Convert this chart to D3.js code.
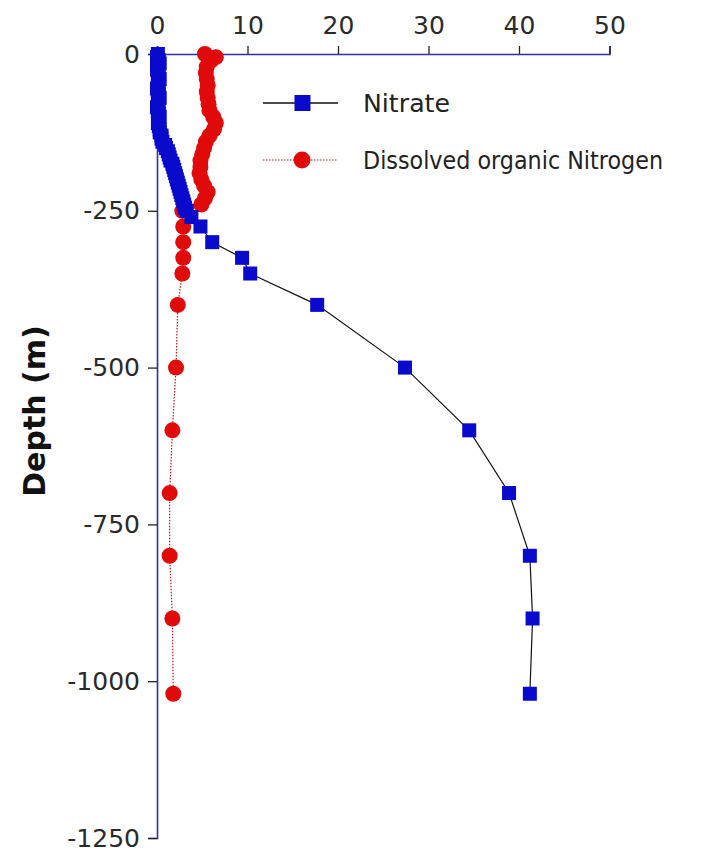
<!DOCTYPE html>
<html>
<head>
<meta charset="utf-8">
<script src="https://cdn.jsdelivr.net/npm/d3@7/dist/d3.min.js"></script>
<style>
  html, body { margin: 0; padding: 0; background: #fff; }
  svg { display: block; }
  text { font-family: "DejaVu Sans", Verdana, sans-serif; }
</style>
</head>
<body>
<svg id="chart" width="720" height="855"></svg>
<script>
// Nitrate profile (µmol/L) against depth (m)
const nitrateDepth = [0, -5, -10, -15, -20, -25, -30, -35, -40, -45, -50, -55, -60, -65, -70, -75, -80, -85, -90,
  -95, -100, -105, -110, -115, -120, -125, -130, -135, -140, -145, -150, -155, -160, -165, -170, -175, -180,
  -185, -190, -195, -200, -205, -210, -215, -220, -225, -230, -235, -240, -245, -250, -260, -275, -300,
  -325, -350, -400, -500, -600, -700, -800, -900, -1020];
const nitrateValue = [0.1, 0.0, 0.2, 0.3, 0.1, 0.0, 0.2, 0.1, 0.3, 0.1, 0.2, 0.0, 0.1, 0.2, 0.3, 0.1, 0.2, 0.0, 0.1,
  0.2, 0.3, 0.2, 0.1, 0.2, 0.3, 0.3, 0.5, 0.5, 0.6, 0.9, 1.0, 1.2, 1.3, 1.4, 1.5, 1.7, 1.8,
  1.9, 2.0, 2.1, 2.2, 2.3, 2.4, 2.5, 2.6, 2.7, 2.8, 2.9, 3.0, 3.1, 3.3, 3.8, 4.8, 6.1,
  9.4, 10.3, 17.7, 27.4, 34.5, 38.9, 41.2, 41.5, 41.2];

// Dissolved organic nitrogen profile
const donDepth = [0, -5, -10, -20, -30, -40, -50, -60, -70, -80, -90, -100, -110, -120, -130, -140, -150,
  -160, -170, -180, -190, -200, -210, -220, -230, -240, -250, -275, -300, -325, -350, -400, -500, -600,
  -700, -800, -900, -1020];
const donValue = [5.3, 6.5, 6.0, 5.5, 5.4, 5.5, 5.6, 5.5, 5.6, 5.7, 5.8, 6.2, 6.5, 6.3, 5.8, 5.4, 5.2,
  5.0, 4.8, 4.8, 4.7, 4.9, 5.2, 5.6, 5.3, 4.9, 2.8, 2.9, 2.9, 2.9, 2.8, 2.3, 2.1, 1.7,
  1.4, 1.4, 1.7, 1.8];

const xTicks = [0, 10, 20, 30, 40, 50];
const yTicks = [0, -250, -500, -750, -1000, -1250];
const seriesNames = ["Nitrate", "Dissolved organic Nitrogen"];

const nitrate = nitrateDepth.map((d, i) => ({ depth: d, value: nitrateValue[i] }));
const don = donDepth.map((d, i) => ({ depth: d, value: donValue[i] }));

const svg = d3.select("#chart");
const x = d3.scaleLinear().domain([0, 50]).range([157, 609.5]);
const y = d3.scaleLinear().domain([0, -1250]).range([54, 838]);

const axisBlue = "#2f2fa8";
const tickInk = "#222";
const plain = d => String(d); // hyphen-minus, as on the original axis

// Top axis
const xAxis = svg.append("g")
  .attr("transform", `translate(0,${y(0)})`)
  .call(d3.axisTop(x).tickValues(xTicks).tickSize(8).tickPadding(12).tickFormat(plain));
// Left axis
const yAxis = svg.append("g")
  .attr("transform", `translate(${x(0)},0)`)
  .call(d3.axisLeft(y).tickValues(yTicks).tickSize(9).tickPadding(8).tickFormat(plain));

[xAxis, yAxis].forEach(g => {
  g.select(".domain").attr("stroke", axisBlue).attr("stroke-width", 1.6);
  g.selectAll(".tick line").attr("stroke", tickInk).attr("stroke-width", 1.3);
  g.selectAll(".tick text").attr("fill", "#2a2a2a").style("font-size", "25px")
    .style("font-family", "'DejaVu Sans', Verdana, sans-serif");
});

// Axis title
svg.append("text")
  .attr("transform", `translate(45,${411}) rotate(-90)`)
  .attr("text-anchor", "middle")
  .style("font-size", "30px")
  .style("font-weight", "bold")
  .attr("fill", "#111")
  .text("Depth (m)");

const line = d3.line().x(d => x(d.value)).y(d => y(d.depth));

// DON: dotted red line with round markers
svg.append("path").datum(don)
  .attr("d", line).attr("fill", "none")
  .attr("stroke", "#b01818").attr("stroke-width", 1.2).attr("stroke-dasharray", "1.5,1.5");
svg.append("g").selectAll("circle").data(don).join("circle")
  .attr("cx", d => x(d.value)).attr("cy", d => y(d.depth)).attr("r", 8)
  .attr("fill", "#e00a0a");

// Nitrate: solid black line with square markers
svg.append("path").datum(nitrate)
  .attr("d", line).attr("fill", "none")
  .attr("stroke", "#111").attr("stroke-width", 1.2);
const sq = 14;
svg.append("g").selectAll("rect").data(nitrate).join("rect")
  .attr("x", d => x(d.value) - sq / 2).attr("y", d => y(d.depth) - sq / 2)
  .attr("width", sq).attr("height", sq)
  .attr("fill", "#0a0acc");

// Legend
const legend = svg.append("g");
const rows = [
  { name: seriesNames[0], y: 103, kind: "square", len: 87 },
  { name: seriesNames[1], y: 160, kind: "circle", len: 300 }
];
rows.forEach(r => {
  const g = legend.append("g");
  if (r.kind === "square") {
    g.append("line").attr("x1", 263).attr("x2", 338).attr("y1", r.y).attr("y2", r.y)
      .attr("stroke", "#111").attr("stroke-width", 1.5);
    g.append("rect").attr("x", 294.5).attr("y", r.y - 8).attr("width", 16).attr("height", 16)
      .attr("fill", "#0a0acc");
  } else {
    g.append("line").attr("x1", 263).attr("x2", 338).attr("y1", r.y).attr("y2", r.y)
      .attr("stroke", "#b01818").attr("stroke-width", 1.2).attr("stroke-dasharray", "1.5,1.5");
    g.append("circle").attr("cx", 302).attr("cy", r.y).attr("r", 8.5).attr("fill", "#e00a0a");
  }
  g.append("text").attr("x", 363).attr("y", r.y + 9)
    .attr("textLength", r.len).attr("lengthAdjust", "spacingAndGlyphs")
    .style("font-size", "25px").attr("fill", "#222").text(r.name);
});
</script>
</body>
</html>
